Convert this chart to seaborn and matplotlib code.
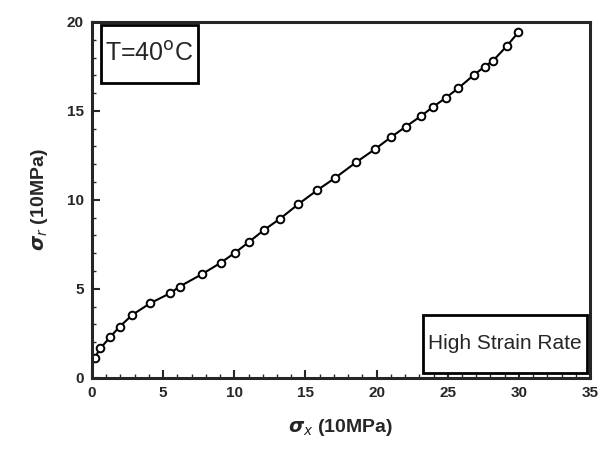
import numpy as np
import pandas as pd
import seaborn as sns
import matplotlib.pyplot as plt
from matplotlib.ticker import MultipleLocator
from matplotlib.patches import Rectangle

# data
sigma_x = [0.2, 0.58, 1.26, 1.95, 2.84, 4.09, 5.51, 6.16, 7.72, 9.04, 10.07,
           11.04, 12.09, 13.2, 14.5, 15.82, 17.06, 18.57, 19.92, 21.0, 22.06,
           23.13, 23.99, 24.85, 25.73, 26.83, 27.59, 28.17, 29.17, 29.96]
sigma_r = [1.14, 1.65, 2.27, 2.88, 3.54, 4.19, 4.76, 5.13, 5.82, 6.46, 7.04,
           7.64, 8.31, 8.93, 9.76, 10.54, 11.22, 12.12, 12.87, 13.52, 14.12,
           14.72, 15.24, 15.73, 16.27, 17.02, 17.49, 17.81, 18.67, 19.42]
x_ticks = [0, 5, 10, 15, 20, 25, 30, 35]
y_ticks = [0, 5, 10, 15, 20]

df = pd.DataFrame({'sx': sigma_x, 'sr': sigma_r})

sns.set_style('ticks')
plt.rcParams['font.family'] = ['Liberation Sans', 'DejaVu Sans']
plt.rcParams['mathtext.fontset'] = 'dejavusans'

fig = plt.figure(figsize=(6.09, 4.67), dpi=100)
ax = fig.add_axes([0.151, 0.191, 0.818, 0.762])

sns.lineplot(data=df, x='sx', y='sr', ax=ax, color='black', linewidth=1.5,
             marker='o', markersize=5.5, markerfacecolor='white',
             markeredgecolor='black', markeredgewidth=1.4)

ax.set_xlim(0, 35)
ax.set_ylim(0, 20)
ax.set_xticks(x_ticks)
ax.set_yticks(y_ticks)
ax.xaxis.set_minor_locator(MultipleLocator(1))
ax.yaxis.set_minor_locator(MultipleLocator(1))
ax.tick_params(which='major', direction='in', length=6, width=1.5,
               labelsize=11, pad=6)
ax.tick_params(which='minor', direction='in', length=3, width=1)
for lab in ax.get_xticklabels() + ax.get_yticklabels():
    lab.set_fontweight('bold')
for s in ax.spines.values():
    s.set_linewidth(2.2)
    s.set_visible(True)

ax.set_xlabel(r'$\boldsymbol{\sigma}_{x}$ (10MPa)', fontsize=14,
              fontweight='bold', labelpad=12)
ax.set_ylabel(r'$\boldsymbol{\sigma}_{r}$ (10MPa)', fontsize=14,
              fontweight='bold', labelpad=12)

# label boxes
ax.add_patch(Rectangle((0.018, 0.829), 0.195, 0.163, transform=ax.transAxes,
                       facecolor='white', edgecolor='black', linewidth=2,
                       zorder=5))
ax.text(0.1155, 0.91, 'T=40$^\\mathrm{o}$C', transform=ax.transAxes,
        fontsize=18, ha='center', va='center', zorder=6)
ax.add_patch(Rectangle((0.665, 0.014), 0.329, 0.163, transform=ax.transAxes,
                       facecolor='white', edgecolor='black', linewidth=2,
                       zorder=5))
ax.text(0.8295, 0.095, 'High Strain Rate', transform=ax.transAxes,
        fontsize=15, ha='center', va='center', zorder=6)

fig.savefig('out.png', dpi=100)
